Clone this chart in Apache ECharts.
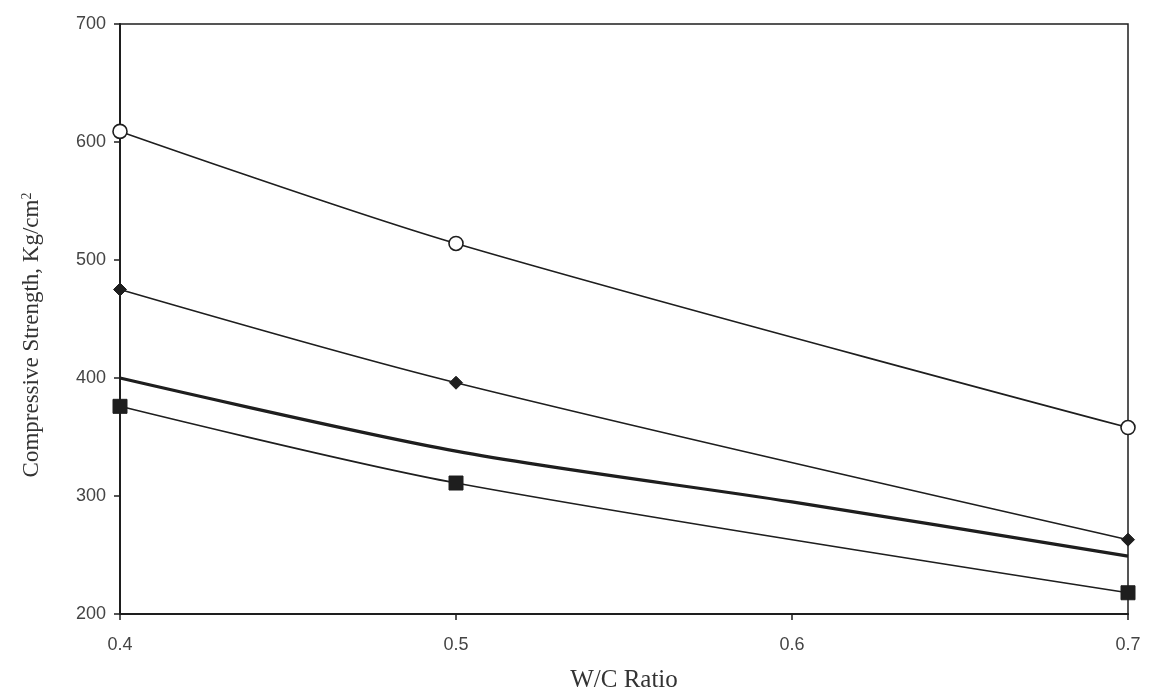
<!DOCTYPE html>
<html>
<head>
<meta charset="utf-8">
<script src="https://cdn.jsdelivr.net/npm/echarts@6/dist/echarts.min.js"></script>
<style>html,body{margin:0;padding:0;background:#fff;}#c{width:1152px;height:698px;}</style>
</head>
<body>
<div id="c"></div>
<script>
const wcRatio = [0.4, 0.5, 0.7];
const circleSeries = [609, 514, 358];
const diamondSeries = [475, 396, 263];
const squareSeries = [376, 311, 218];
const thickX = [0.4, 0.5, 0.6, 0.7];
const thickSeries = [400, 338, 295, 249];
const xTicks = [0.4, 0.5, 0.6, 0.7];
const yTicks = [200, 300, 400, 500, 600, 700];

const pair = (xs, ys) => xs.map((x, i) => [x, ys[i]]);
const ink = '#1e1e1e';

const chart = echarts.init(document.getElementById('c'));
chart.setOption({
  backgroundColor: '#ffffff',
  animation: false,
  grid: { left: 120, right: 24, top: 24, bottom: 83, show: true, borderColor: ink, borderWidth: 1.5, backgroundColor: 'transparent' },
  xAxis: {
    type: 'value', min: xTicks[0], max: xTicks[xTicks.length - 1], interval: 0.1,
    name: 'W/C Ratio', nameLocation: 'middle', nameGap: 54,
    nameTextStyle: { fontFamily: 'Liberation Serif', fontSize: 25, color: '#333' },
    axisLine: { lineStyle: { color: ink, width: 2 } },
    axisTick: { show: true, inside: false, length: 6, lineStyle: { color: ink, width: 1.5 } },
    axisLabel: { margin: 22, fontFamily: 'Liberation Sans', fontSize: 18, color: '#444', formatter: v => v.toFixed(1) },
    splitLine: { show: false }
  },
  yAxis: {
    type: 'value', min: yTicks[0], max: yTicks[yTicks.length - 1], interval: 100,
    name: 'Compressive Strength, Kg/cm{sup|2}', nameLocation: 'middle', nameGap: 76,
    nameTextStyle: { fontFamily: 'Liberation Serif', fontSize: 23, color: '#333', padding: [0, 32, 0, 0],
      rich: { sup: { fontFamily: 'Liberation Serif', fontSize: 14, color: '#333', verticalAlign: 'top', padding: [0, 0, 10, 0] } } },
    axisLine: { show: true, lineStyle: { color: ink, width: 2 } },
    axisTick: { show: true, length: 6, lineStyle: { color: ink, width: 1.5 } },
    axisLabel: { margin: 14, fontFamily: 'Liberation Sans', fontSize: 18, color: '#444' },
    splitLine: { show: false }
  },
  series: [
    { type: 'line', data: pair(wcRatio, circleSeries), smooth: 0.3, symbol: 'circle', symbolSize: 14,
      lineStyle: { color: ink, width: 1.6 }, itemStyle: { color: '#fff', borderColor: ink, borderWidth: 1.6 }, z: 3 },
    { type: 'line', data: pair(wcRatio, diamondSeries), smooth: 0.3, symbol: 'diamond', symbolSize: 13,
      lineStyle: { color: ink, width: 1.6 }, itemStyle: { color: ink, borderColor: ink }, z: 3 },
    { type: 'line', data: pair(thickX, thickSeries), smooth: 0.3, symbol: 'none',
      lineStyle: { color: ink, width: 3.2 }, z: 2 },
    { type: 'line', data: pair(wcRatio, squareSeries), smooth: 0.3, symbol: 'rect', symbolSize: 14,
      lineStyle: { color: ink, width: 1.6 }, itemStyle: { color: ink, borderColor: ink }, z: 3 }
  ]
});
</script>
</body>
</html>
